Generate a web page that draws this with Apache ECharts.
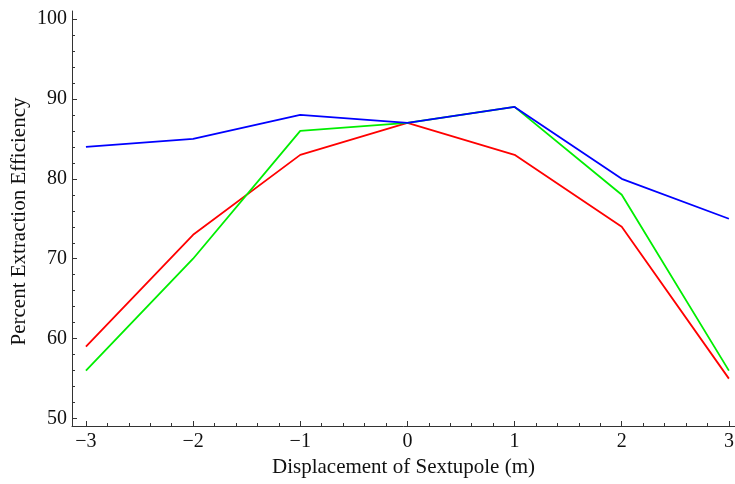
<!DOCTYPE html>
<html>
<head>
<meta charset="utf-8">
<script src="https://cdn.jsdelivr.net/npm/echarts@6/dist/echarts.min.js"></script>
<style>
  html, body { margin: 0; padding: 0; background: #fff; }
  #chart { width: 735px; height: 484px; }
</style>
</head>
<body>
<div id="chart"></div>
<script>
// Sextupole displacement (m)
const displacement = [-3, -2, -1, 0, 1, 2, 3];

// Extraction efficiency (%) for the three runs
const blueRun  = [84, 85, 88, 87, 89, 80, 75];
const greenRun = [56, 70, 86, 87, 89, 78, 56];
const redRun   = [59, 73, 83, 87, 83, 74, 55];

// Tick marks
const xMajorTicks = [-3, -2, -1, 0, 1, 2, 3];
const yMajorTicks = [50, 60, 70, 80, 90, 100];

const xMinorTicks = [];
for (let i = -3; i < 3; i++) for (let k = 1; k <= 4; k++) xMinorTicks.push(+(i + k * 0.2).toFixed(2));
const yMinorTicks = [];
for (let v = 50; v < 100; v += 10) for (let k = 2; k <= 8; k += 2) yMinorTicks.push(v + k);

const pairs = vals => displacement.map((x, i) => [x, vals[i]]);
const minus = v => String(v).replace('-', '\u2212');

const font = '"Liberation Serif", "Times New Roman", serif';
const axisColor = '#333';
const xRange = { min: -3.13, max: 3.057 };
const yRange = { min: 49.07, max: 101 };

const chart = echarts.init(document.getElementById('chart'), null, { renderer: 'canvas' });

chart.setOption({
  animation: false,
  backgroundColor: '#fff',
  grid: { left: 72, right: 0, top: 11, bottom: 58, containLabel: false, outerBoundsMode: 'none' },
  xAxis: [
    {
      type: 'value', ...xRange,
      name: 'Displacement of Sextupole (m)',
      nameLocation: 'middle', nameGap: 31, nameMoveOverlap: false,
      nameTextStyle: { fontFamily: font, fontSize: 21, color: '#111' },
      axisLine: { show: true, onZero: false, lineStyle: { color: axisColor, width: 1 } },
      axisTick: { show: true, inside: true, length: 5, customValues: xMajorTicks, lineStyle: { color: axisColor } },
      axisLabel: { show: true, customValues: xMajorTicks, formatter: minus, margin: 6,
                   fontFamily: font, fontSize: 20, color: '#111' },
      splitLine: { show: false }
    },
    {
      type: 'value', ...xRange, position: 'bottom', gridIndex: 0,
      axisLine: { show: false, onZero: false },
      axisTick: { show: true, inside: true, length: 3, customValues: xMinorTicks, lineStyle: { color: axisColor } },
      axisLabel: { show: false },
      splitLine: { show: false }
    }
  ],
  yAxis: [
    {
      type: 'value', ...yRange,
      name: 'Percent Extraction Efficiency',
      nameLocation: 'middle', nameGap: 42, nameMoveOverlap: false,
      nameTextStyle: { fontFamily: font, fontSize: 21, color: '#111', padding: [0, 6, 0, 0] },
      axisLine: { show: true, onZero: false, lineStyle: { color: axisColor, width: 1 } },
      axisTick: { show: true, inside: true, length: 5, customValues: yMajorTicks, lineStyle: { color: axisColor } },
      axisLabel: { show: true, customValues: yMajorTicks, margin: 5,
                   fontFamily: font, fontSize: 20, color: '#111' },
      splitLine: { show: false }
    },
    {
      type: 'value', ...yRange, position: 'left', gridIndex: 0,
      axisLine: { show: false, onZero: false },
      axisTick: { show: true, inside: true, length: 3, customValues: yMinorTicks, lineStyle: { color: axisColor } },
      axisLabel: { show: false },
      splitLine: { show: false }
    }
  ],
  series: [
    { type: 'line', data: pairs(blueRun),  showSymbol: false, lineStyle: { color: '#0000ff', width: 1.8 }, z: 3 },
    { type: 'line', data: pairs(greenRun), showSymbol: false, lineStyle: { color: '#00ee00', width: 1.8 }, z: 2 },
    { type: 'line', data: pairs(redRun),   showSymbol: false, lineStyle: { color: '#ff0000', width: 1.8 }, z: 1 }
  ]
});
</script>
</body>
</html>
